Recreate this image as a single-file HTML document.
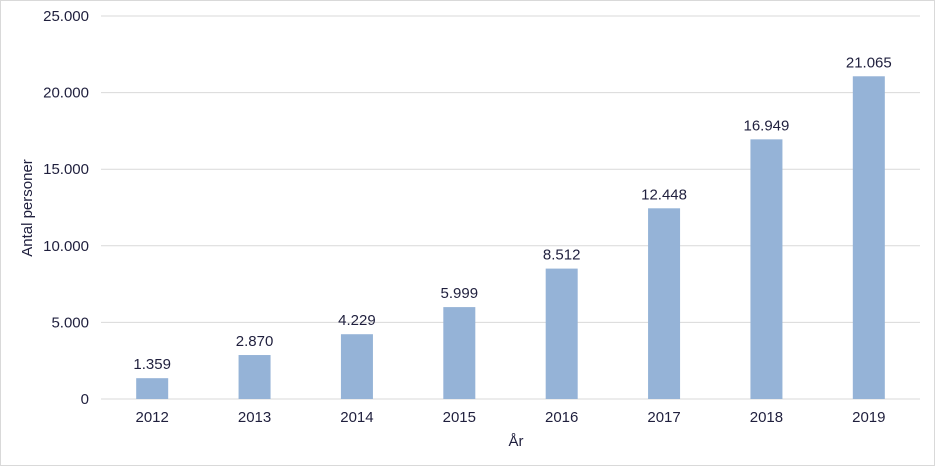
<!DOCTYPE html>
<html><head><meta charset="utf-8"><style>
html,body{margin:0;padding:0;background:#fff}
svg{display:block;font-family:"Liberation Sans",Arial,sans-serif}
</style></head><body>
<svg id="c" width="935" height="466">
<rect x="0.5" y="0.5" width="934" height="465" fill="#fff" stroke="#d9d9d9"/>
<g id="grid"></g><g id="bars"></g><g id="labels"></g>
<text x="516" y="446" text-anchor="middle" font-size="15" fill="#1f1f3d">År</text>
<text transform="translate(32,208) rotate(-90)" text-anchor="middle" font-size="15" fill="#1f1f3d">Antal personer</text>
</svg>
<script>
const categories=["2012","2013","2014","2015","2016","2017","2018","2019"];
const values=[1359,2870,4229,5999,8512,12448,16949,21065];
const valueLabels=["1.359","2.870","4.229","5.999","8.512","12.448","16.949","21.065"];
const ticks=[0,5000,10000,15000,20000,25000];
const tickLabels=["0","5.000","10.000","15.000","20.000","25.000"];
const ns="http://www.w3.org/2000/svg";
const L=101,R=920,T=16,B=399,max=25000;
const y=v=>B-(v/max)*(B-T);
const band=(R-L)/categories.length;
const xc=i=>L+band*(i+0.5);
function mk(tag,attrs,parent,text){const e=document.createElementNS(ns,tag);for(const k in attrs)e.setAttribute(k,attrs[k]);if(text!==undefined)e.textContent=text;parent.appendChild(e);return e;}
const g=document.getElementById('grid'),bg=document.getElementById('bars'),lg=document.getElementById('labels');
ticks.forEach((t,i)=>{
  const ln=mk('line',{x1:L,x2:R,y1:y(t),y2:y(t),stroke:'#d9d9d9','stroke-width':1},g);
  
  
  const tx=mk('text',{x:89,y:y(t)+5,'text-anchor':'end','font-size':15,fill:'#1f1f3d'},g,tickLabels[i]);
  
  
});
categories.forEach((c,i)=>{
  const w=32;
  const r=mk('rect',{x:xc(i)-w/2,y:y(values[i]),width:w,height:B-y(values[i]),fill:'#95b3d7'},bg);
  
  
  const vl=mk('text',{x:xc(i),y:y(values[i])-9,'text-anchor':'middle','font-size':15,fill:'#1f1f3d'},lg,valueLabels[i]);
  
  
  const xl=mk('text',{x:xc(i),y:B+23,'text-anchor':'middle','font-size':15,fill:'#1f1f3d'},lg,c);
  
  
});
</script>
</body></html>
